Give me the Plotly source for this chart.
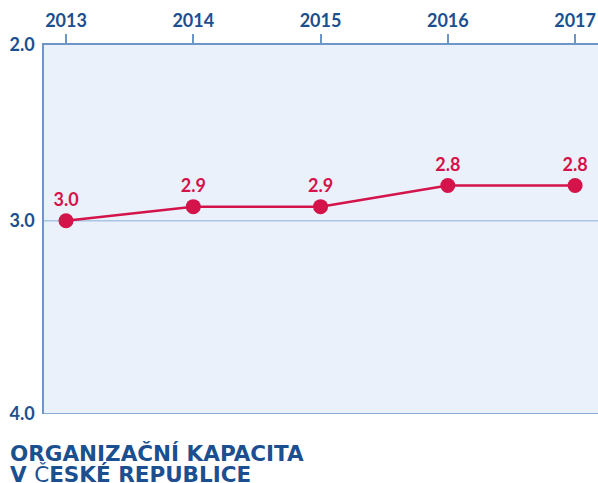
import plotly.graph_objects as go

years = [2013, 2014, 2015, 2016, 2017]
values = [3.0, 2.92, 2.92, 2.8, 2.8]
x_tick_labels = ["2013", "2014", "2015", "2016", "2017"]
y_tick_vals = [2.0, 3.0, 4.1]
y_tick_labels = ["2.0", "3.0", "4.0"]
title_line1 = "<b>ORGANIZAČNÍ KAPACITA</b>"
title_line2 = "<b>V </b>Č<b>ESKÉ REPUBLICE</b>"

DARK_BLUE = "#1b4f8f"
AXIS_BLUE = "#6d96c8"
GRID_BLUE = "#aac5e6"
RED = "#d3134a"
BG = "#eaf1fa"
FONT = "Lato, 'Open Sans', sans-serif"
TITLE_FONT = "'DejaVu Sans', 'Open Sans', sans-serif"

PLOT_H = 483 - 45 - 69
PLOT_W = 598 - 44

fig = go.Figure()
fig.add_trace(go.Scatter(
    x=years, y=values,
    mode="lines+markers+text",
    line=dict(color=RED, width=2.5),
    marker=dict(color=RED, size=15),
    text=[f"{v:.1f}" for v in values],
    textposition="top center",
    textfont=dict(family=FONT, size=18, color=RED, weight="bold"),
    cliponaxis=False,
    hoverinfo="skip",
))

fig.update_layout(
    width=598, height=483,
    margin=dict(l=44, r=0, t=45, b=69),
    paper_bgcolor="white",
    plot_bgcolor=BG,
    showlegend=False,
    font=dict(family=FONT, color=DARK_BLUE),
    xaxis=dict(
        side="top",
        range=[2012.827, 2017.18],
        tickvals=years,
        ticktext=x_tick_labels,
        ticks="outside", ticklen=9, tickwidth=1.5, tickcolor=AXIS_BLUE,
        tickfont=dict(family=FONT, size=18, color=DARK_BLUE, weight="bold"),
        showgrid=False, zeroline=False,
        showline=True, linecolor=AXIS_BLUE, linewidth=1.5,
        fixedrange=True,
    ),
    yaxis=dict(
        range=[4.1, 2.0],
        tickvals=y_tick_vals,
        ticktext=y_tick_labels,
        ticks="",
        tickfont=dict(family=FONT, size=18, color=DARK_BLUE, weight="bold"),
        showgrid=False, zeroline=False,
        showline=True, linecolor=AXIS_BLUE, linewidth=1.5,
        ticklabelstandoff=4,
        fixedrange=True,
    ),
    shapes=[
        dict(type="line", xref="paper", yref="y", x0=0, x1=1, y0=3.0, y1=3.0,
             line=dict(color=GRID_BLUE, width=1.5), layer="below"),
        dict(type="line", xref="paper", yref="y", x0=0, x1=1, y0=4.1, y1=4.1,
             line=dict(color=AXIS_BLUE, width=1.5), layer="above"),
    ],
    annotations=[
        dict(text=title_line1, xref="paper", yref="paper",
             x=(9 - 44) / PLOT_W, y=-(453 - 414) / PLOT_H,
             xanchor="left", yanchor="middle", align="left", showarrow=False,
             borderpad=0,
             font=dict(family=TITLE_FONT, size=21.5, color=DARK_BLUE)),
        dict(text=title_line2, xref="paper", yref="paper",
             x=(9 - 44) / PLOT_W, y=-(474 - 414) / PLOT_H,
             xanchor="left", yanchor="middle", align="left", showarrow=False,
             borderpad=0,
             font=dict(family=TITLE_FONT, size=21.5, color=DARK_BLUE)),
    ],
)

fig.write_html("out.html", config={"displayModeBar": False},
               post_script="document.body.style.margin='0px';")
